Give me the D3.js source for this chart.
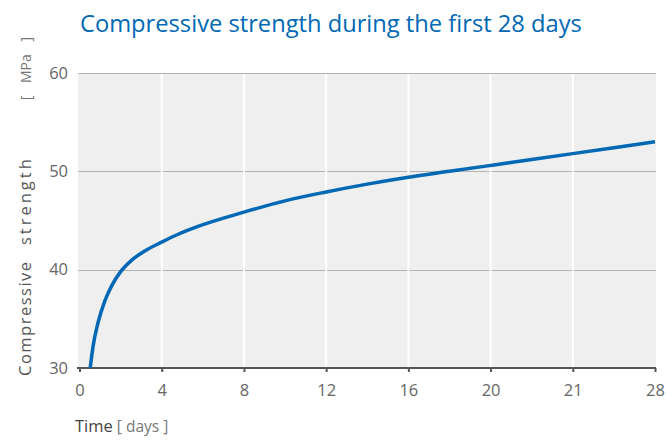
<!DOCTYPE html>
<html>
  <head>
    <meta charset="utf-8">
    <title>Compressive strength</title>
    <script src="https://d3js.org/d3.v7.min.js"></script>
<style type="text/css">
body{
  margin:0;
  background-color:#fff;
  font-family:'Open Sans', sans-serif;
}
</style>
  </head>
  <body>
<svg width="667" height="440"></svg>
  <script>
// tick values on the time axis (equally spaced in the original)
var timeTicks = [0, 4, 8, 12, 16, 20, 21, 28];
var strengthTicks = [30, 40, 50, 60];

// curve
var days = [0.52, 0.66, 0.9, 1.23, 1.55, 2.0, 2.53, 3.18, 4, 4.8, 5.7, 8, 10, 12, 14, 16, 18, 20, 20.5, 21, 24.5, 28];
var strength = [30, 32.2, 34.6, 36.8, 38.3, 39.8, 40.95, 41.9, 42.8, 43.6, 44.35, 45.85, 47.0, 47.9, 48.7, 49.4, 50.0, 50.6, 51.2, 51.8, 52.4, 53.0];

var svg = d3.select("svg");
var pLeft = 79.5, pRight = 655, pTop = 73, pBottom = 368;

var x = d3.scaleLinear()
    .domain(timeTicks)
    .range(timeTicks.map(function(d, i) { return pLeft + i * (pRight - pLeft) / (timeTicks.length - 1); }));
var y = d3.scaleLinear().domain([30, 60]).range([pBottom, pTop]);

// plot background
svg.append("rect")
  .attr("x", 78).attr("y", pTop)
  .attr("width", pRight + 1 - 78).attr("height", pBottom - pTop)
  .attr("fill", "#efefef");

// horizontal grid
svg.append("g")
  .selectAll("line")
  .data(strengthTicks.slice(1))
  .enter().append("line")
    .attr("x1", 78).attr("x2", pRight + 1)
    .attr("y1", function(d) { return Math.round(y(d)) + 0.5; })
    .attr("y2", function(d) { return Math.round(y(d)) + 0.5; })
    .attr("stroke", "#b3b3b3").attr("stroke-width", 1);

// vertical white grid
svg.append("g")
  .selectAll("line")
  .data(timeTicks.slice(1, -1))
  .enter().append("line")
    .attr("x1", function(d) { return x(d); })
    .attr("x2", function(d) { return x(d); })
    .attr("y1", pTop + 1).attr("y2", pBottom)
    .attr("stroke", "#fff").attr("stroke-width", 2);

// x axis
var xAxis = svg.append("g")
  .attr("transform", "translate(0," + pBottom + ")")
  .call(d3.axisBottom(x).tickValues(timeTicks).tickSize(4).tickPadding(12).tickSizeOuter(0));
xAxis.select(".domain").attr("stroke", "#555").attr("stroke-width", 2).attr("d", "M77,0H" + (pRight + 1));
xAxis.selectAll(".tick line").attr("stroke", "#555").attr("stroke-width", 2);
xAxis.selectAll(".tick text").attr("fill", "#666").style("font-size", "16.5px").style("font-family", "'Open Sans', sans-serif");

// y axis labels
var yAxis = svg.append("g")
  .attr("transform", "translate(78,0)")
  .call(d3.axisLeft(y).tickValues(strengthTicks).tickSize(0).tickPadding(10));
yAxis.select(".domain").remove();
yAxis.selectAll(".tick text").attr("fill", "#666").style("font-size", "16.5px").style("font-family", "'Open Sans', sans-serif");

// curve
var line = d3.line()
  .x(function(d, i) { return x(days[i]); })
  .y(function(d, i) { return y(strength[i]); })
  .curve(d3.curveMonotoneX);

svg.append("path")
  .datum(days)
  .attr("d", line)
  .attr("fill", "none")
  .attr("stroke", "#0068b4")
  .attr("stroke-width", 3.5);

// title
svg.append("text")
  .attr("x", 80).attr("y", 32)
  .attr("fill", "#0068b4")
  .style("font-size", "23.7px")
  .text("Compressive strength during the first 28 days");

// x axis title
var xt = svg.append("text")
  .attr("x", 75).attr("y", 432)
  .style("font-size", "16.5px");
xt.append("tspan").attr("fill", "#444").text("Time");
xt.append("tspan").attr("fill", "#777").style("font-size", "15.5px").text(" [ days ]");

// y axis title
svg.append("text")
  .attr("transform", "translate(31,376) rotate(-90)")
  .attr("fill", "#555")
  .style("font-size", "16.5px")
  .style("letter-spacing", "1.5px")
  .text("Compressive");

svg.append("text")
  .attr("transform", "translate(31,245) rotate(-90)")
  .attr("fill", "#555")
  .style("font-size", "16.5px")
  .style("letter-spacing", "3px")
  .text("strength");

svg.append("text")
  .attr("transform", "translate(31,37) rotate(-90)")
  .attr("text-anchor", "end")
  .attr("fill", "#777")
  .style("font-size", "14px")
  .style("word-spacing", "9px")
  .text("[ MPa ]");
  </script>
  </body>
</html>
